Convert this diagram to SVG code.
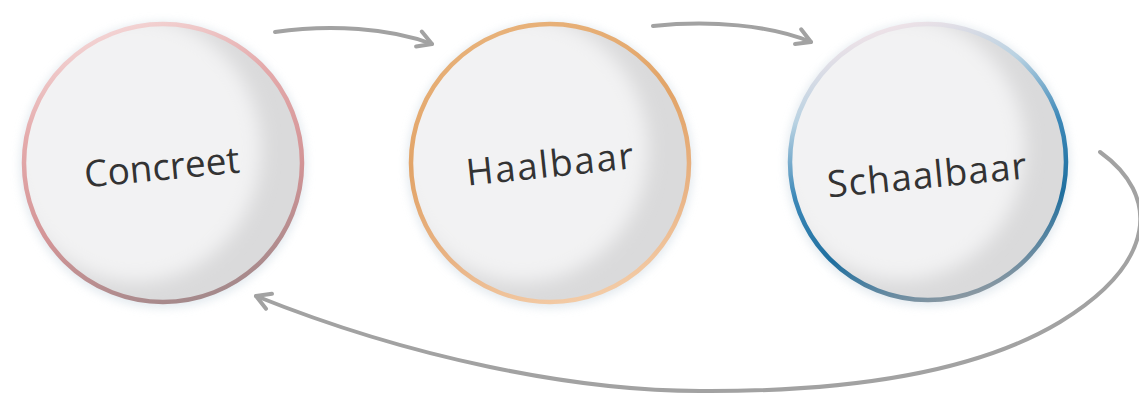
<svg xmlns="http://www.w3.org/2000/svg" width="1139" height="394" viewBox="0 0 1139 394">
<defs>
<style>
.halo{fill:#d9e2e9;opacity:.75;filter:url(#blurH)}
.base{fill:#dadadb}
.light{fill:#f2f2f3;filter:url(#blurL)}
.ring{fill:none;stroke-width:4.5}
.lbl{font-family:"Open Sans","Noto Sans",sans-serif;font-size:37px;fill:#333333;text-anchor:middle}
.conn{fill:none;stroke:#a2a2a2;stroke-width:4;stroke-linecap:round}
</style>
<filter id="blurH" x="-20%" y="-20%" width="140%" height="140%"><feGaussianBlur stdDeviation="5"/></filter>
<filter id="blurL" x="-20%" y="-20%" width="140%" height="140%"><feGaussianBlur stdDeviation="9"/></filter>
<clipPath id="c1"><circle cx="163" cy="163" r="139"/></clipPath>
<clipPath id="c2"><circle cx="550" cy="163" r="139"/></clipPath>
<clipPath id="c3"><circle cx="928" cy="162" r="138"/></clipPath>
<linearGradient id="g1" x1="0.3" y1="0" x2="0.6" y2="1">
<stop offset="0" stop-color="#f4d6d6"/>
<stop offset="0.3" stop-color="#e4aaab"/>
<stop offset="0.65" stop-color="#d39496"/>
<stop offset="1" stop-color="#a4898b"/>
</linearGradient>
<linearGradient id="g2" x1="0.3" y1="0" x2="0.6" y2="1">
<stop offset="0" stop-color="#e8b27a"/>
<stop offset="0.4" stop-color="#e2a468"/>
<stop offset="0.75" stop-color="#e9b486"/>
<stop offset="1" stop-color="#f3cba6"/>
</linearGradient>
<linearGradient id="g3" x1="0.3" y1="0" x2="0.6" y2="1">
<stop offset="0" stop-color="#f4e4e8"/>
<stop offset="0.25" stop-color="#b9d2e2"/>
<stop offset="0.5" stop-color="#3c88b8"/>
<stop offset="0.75" stop-color="#1f6f9f"/>
<stop offset="1" stop-color="#8a98a2"/>
</linearGradient>
<marker id="ah" markerUnits="userSpaceOnUse" viewBox="-20 -12 24 24" refX="0" refY="0" markerWidth="24" markerHeight="24" orient="auto" overflow="visible">
<path d="M-14,-8 L0,0 L-14,8" fill="none" stroke="#a2a2a2" stroke-width="4" stroke-linecap="round" stroke-linejoin="round"/>
</marker>
</defs>

<g id="connectors">
<path class="conn" d="M275,32 C330,24 390,28 432,44" marker-end="url(#ah)"/>
<path class="conn" d="M653,26 C710,20 770,25 811,42" marker-end="url(#ah)"/>
<path class="conn" d="M1100,152 C1160,195 1158,262 1060,322 C980,370 860,392 700,391 C575,391 410,358 256,296" marker-end="url(#ah)"/>
</g>

<g id="node-concreet">
<circle class="halo" cx="163" cy="165" r="143"/>
<g clip-path="url(#c1)">
<circle class="base" cx="163" cy="163" r="139"/>
<ellipse class="light" cx="135" cy="149" rx="126" ry="133"/>
</g>
<circle class="ring" cx="163" cy="163" r="139" stroke="url(#g1)"/>
<text class="lbl" x="163" y="180" transform="rotate(-5.5 163 180)">Concreet</text>
</g>

<g id="node-haalbaar">
<circle class="halo" cx="550" cy="165" r="143"/>
<g clip-path="url(#c2)">
<circle class="base" cx="550" cy="163" r="139"/>
<ellipse class="light" cx="522" cy="149" rx="126" ry="133"/>
</g>
<circle class="ring" cx="550" cy="163" r="139" stroke="url(#g2)"/>
<text class="lbl" x="551" y="177" transform="rotate(-6 551 177)" textLength="168">Haalbaar</text>
</g>

<g id="node-schaalbaar">
<circle class="halo" cx="928" cy="164" r="142"/>
<g clip-path="url(#c3)">
<circle class="base" cx="928" cy="162" r="138"/>
<ellipse class="light" cx="900" cy="148" rx="125" ry="132"/>
</g>
<circle class="ring" cx="928" cy="162" r="138" stroke="url(#g3)"/>
<text class="lbl" x="928" y="188" transform="rotate(-5.5 928 188)" textLength="200">Schaalbaar</text>
</g>
</svg>
